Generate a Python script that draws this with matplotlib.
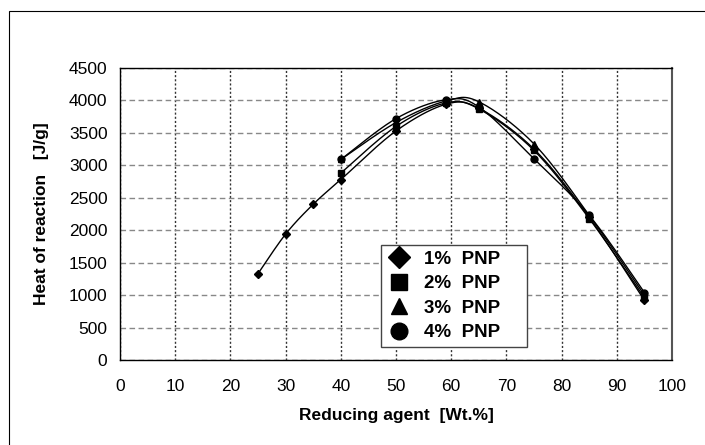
import numpy as np
import matplotlib
matplotlib.use("Agg")
import matplotlib.pyplot as plt
from matplotlib.patches import Rectangle

plt.rcParams['font.family'] = ['Liberation Sans', 'DejaVu Sans']

x1 = [25, 30, 35, 40, 50, 59, 65, 75, 85, 95]
y1 = [1330, 1940, 2400, 2780, 3530, 3940, 3880, 3250, 2200, 920]
x2 = [40, 50, 59, 65, 75, 85, 95]
y2 = [2880, 3600, 3960, 3870, 3230, 2180, 960]
x3 = [40, 50, 59, 65, 75, 85, 95]
y3 = [3090, 3660, 3990, 3980, 3330, 2230, 1000]
x4 = [40, 50, 59, 65, 75, 85, 95]
y4 = [3090, 3720, 4010, 3900, 3100, 2230, 1040]
labels = ['1%  PNP', '2%  PNP', '3%  PNP', '4%  PNP']
markers = ['D', 's', '^', 'o']
xticks = list(range(0, 101, 10))
yticks = list(range(0, 4501, 500))


def smooth(xs, ys, n=30):
    # Excel-style smoothed line (Catmull-Rom Bezier) through the data points
    xs = np.asarray(xs, float)
    ys = np.asarray(ys, float)
    px = np.concatenate([[xs[0]], xs, [xs[-1]]])
    py = np.concatenate([[ys[0]], ys, [ys[-1]]])
    ox, oy = [], []
    t = np.linspace(0, 1, n)
    for i in range(1, len(px) - 2):
        p0 = np.array([px[i], py[i]])
        p3 = np.array([px[i + 1], py[i + 1]])
        c1 = p0 + (np.array([px[i + 1], py[i + 1]]) - np.array([px[i - 1], py[i - 1]])) / 6
        c2 = p3 - (np.array([px[i + 2], py[i + 2]]) - np.array([px[i], py[i]])) / 6
        b = ((1 - t) ** 3)[:, None] * p0 + (3 * (1 - t) ** 2 * t)[:, None] * c1 \
            + (3 * (1 - t) * t ** 2)[:, None] * c2 + (t ** 3)[:, None] * p3
        ox.extend(b[:, 0])
        oy.extend(b[:, 1])
    return ox, oy


fig = plt.figure(figsize=(7.05, 4.45), dpi=100)
fig.patches.append(Rectangle((9 / 705, -0.05), 1.2, (445 - 11) / 445 + 0.05,
                             transform=fig.transFigure, fill=False,
                             edgecolor='black', linewidth=0.8))
ax = fig.add_axes([120 / 705, 1 - 360 / 445, 552 / 705, 292 / 445])

series = [(x1, y1), (x2, y2), (x3, y3), (x4, y4)]
for (xs, ys), m, lab in zip(series, markers, labels):
    sx, sy = smooth(xs, ys)
    ax.plot(sx, sy, color='black', linewidth=1.0, zorder=3)
    ax.plot(xs, ys, linestyle='none', marker=m, color='black',
            markersize=5 if m != 'D' else 4.5, zorder=4, label=lab)

ax.set_xlim(0, 100)
ax.set_ylim(0, 4500)
ax.set_xticks(xticks)
ax.set_yticks(yticks)
ax.tick_params(axis='both', length=0, labelsize=12.5)
ax.tick_params(axis='x', pad=14)
ax.tick_params(axis='y', pad=9)
ax.xaxis.grid(True, linestyle=(0, (1.5, 1.5)), color='#333333', linewidth=1.0)
ax.yaxis.grid(True, linestyle=(0, (4, 2.5)), color='#888888', linewidth=1.0)
ax.set_axisbelow(True)
for s in ax.spines.values():
    s.set_linewidth(1.0)
    s.set_color('black')
ax.spines['right'].set_color('#555555')
ax.spines['right'].set_linewidth(1.5)

ax.set_xlabel('Reducing agent  [Wt.%]', fontsize=12.5, fontweight='bold', labelpad=10)
ax.set_ylabel('Heat of reaction   [J/g]', fontsize=12.5, fontweight='bold', labelpad=14)

leg = ax.legend(loc='lower left', bbox_to_anchor=(261 / 552, 13 / 292, 146 / 552, 104 / 292),
                mode='expand', markerscale=2.4, handlelength=1.3, handletextpad=0.7,
                fancybox=False, framealpha=1, edgecolor='#444444',
                prop={'weight': 'bold', 'size': 13.5}, borderaxespad=0,
                labelspacing=0.4, borderpad=0.3)
leg.get_frame().set_linewidth(1.0)
leg.set_zorder(5)

fig.savefig('out.png', dpi=100)
